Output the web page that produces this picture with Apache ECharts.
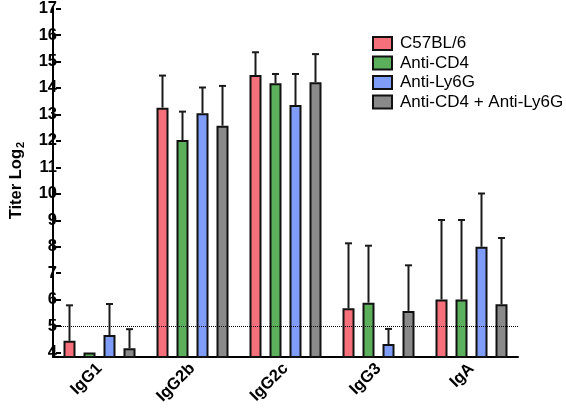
<!DOCTYPE html>
<html><head><meta charset="utf-8">
<script src="https://cdn.jsdelivr.net/npm/echarts@6/dist/echarts.min.js"></script>
<style>html,body{margin:0;padding:0;background:#fff}#c{width:566px;height:413px}</style>
</head><body><div id="c"></div>
<script>
const categories = ['IgG1', 'IgG2b', 'IgG2c', 'IgG3', 'IgA'];
const groups = ['C57BL/6', 'Anti-CD4', 'Anti-Ly6G', 'Anti-CD4 + Anti-Ly6G'];
const c57Mean   = [4.44, 13.24, 14.47, 5.67, 6.00];
const c57Upper  = [5.78, 14.45, 15.33, 8.12, 9.00];
const cd4Mean   = [4.00, 12.02, 14.16, 5.88, 6.00];
const cd4Upper  = [4.00, 13.09, 14.51, 8.03, 9.00];
const ly6gMean  = [4.66, 13.03, 13.34, 4.32, 7.99];
const ly6gUpper = [5.83, 14.00, 14.51, 4.89, 10.00];
const bothMean  = [4.16, 12.56, 14.20, 5.57, 5.82];
const bothUpper = [4.88, 14.06, 15.26, 7.29, 8.32];
const yTickMin = 4, yTickMax = 17, yTickStep = 1;
const axisFloor = 3.83;
const thresholdValue = 5;

const means = [c57Mean, cd4Mean, ly6gMean, bothMean];
const uppers = [c57Upper, cd4Upper, ly6gUpper, bothUpper];
const colors = ['#F6707B', '#5CB05B', '#7E9CF8', '#8A8A8A'];
const FONT = '"Liberation Sans", Arial, Helvetica, sans-serif';
const BAR_W = 12, BAR_PITCH = 20;

function errRender(offset) {
  return function (params, api) {
    const x = api.value(0), v = api.value(1), u = api.value(2);
    if (!(u > v)) return;
    const p0 = api.coord([x, v]);
    const p1 = api.coord([x, u]);
    const cx = p0[0] + offset;
    return {
      type: 'group',
      children: [
        { type: 'line', shape: { x1: cx, y1: p0[1], x2: cx, y2: p1[1] }, style: { stroke: '#1a1a1a', lineWidth: 2 } },
        { type: 'line', shape: { x1: cx - 3.5, y1: p1[1], x2: cx + 3.5, y2: p1[1] }, style: { stroke: '#1a1a1a', lineWidth: 2 } }
      ]
    };
  };
}

const series = [{
  type: 'line', data: [], xAxisIndex: 0, yAxisIndex: 0, z: 1, silent: true,
  markLine: {
    silent: true, symbol: 'none', label: { show: false },
    lineStyle: { type: 'dotted', color: '#000', width: 1 },
    data: [{ yAxis: thresholdValue }]
  }
}];
groups.forEach((g, i) => {
  series.push({
    name: g, type: 'bar', xAxisIndex: 0, yAxisIndex: 0, z: 2,
    barWidth: BAR_W, barGap: ((BAR_PITCH - BAR_W) / BAR_W * 100) + '%',
    itemStyle: { color: colors[i], borderColor: '#111', borderWidth: 2 },
    data: means[i]
  });
});
groups.forEach((g, i) => {
  series.push({
    name: 'err' + i, type: 'custom', xAxisIndex: 0, yAxisIndex: 0, z: 3,
    renderItem: errRender((i - 1.5) * BAR_PITCH),
    encode: { x: 0, y: [1, 2] },
    data: categories.map((c, k) => [k, means[i][k], uppers[i][k]])
  });
});

const chart = echarts.init(document.getElementById('c'), null, { renderer: 'canvas' });
chart.setOption({
  animation: false,
  backgroundColor: '#fff',
  textStyle: { fontFamily: FONT },
  grid: [
    { left: 53, right: 48, top: 8, bottom: 56 },
    { left: 53, right: 48, top: 8, bottom: 60.4 }
  ],
  legend: {
    data: groups, orient: 'vertical', left: 367, top: 30,
    itemWidth: 19, itemHeight: 13, itemGap: 2.5, icon: 'rect',
    textStyle: { fontSize: 17, color: '#000', fontFamily: FONT, padding: [0, 0, 0, 3] }
  },
  xAxis: [{
    gridIndex: 0, type: 'category', data: categories,
    axisLine: { lineStyle: { color: '#000', width: 2 } },
    axisTick: { alignWithLabel: true, length: 5, lineStyle: { color: '#000', width: 2 } },
    axisLabel: { rotate: 45, fontSize: 16.5, fontWeight: 'bold', color: '#000', margin: 9, fontFamily: FONT }
  }, {
    gridIndex: 1, type: 'category', data: categories, show: false
  }],
  yAxis: [{
    gridIndex: 0, type: 'value', min: axisFloor, max: yTickMax,
    axisLine: { show: true, lineStyle: { color: '#000', width: 2 } },
    axisTick: { show: false }, axisLabel: { show: false }, splitLine: { show: false }
  }, {
    gridIndex: 1, type: 'value', min: yTickMin, max: yTickMax, interval: yTickStep,
    axisLine: { show: false },
    axisTick: { show: true, length: 5, lineStyle: { color: '#000', width: 2 } },
    axisLabel: { fontSize: 16.5, fontWeight: 'bold', color: '#000', margin: 4, fontFamily: FONT },
    splitLine: { show: false },
    name: 'Titer Log{s|2}', nameLocation: 'middle', nameRotate: 90, nameGap: 35,
    nameTextStyle: {
      fontSize: 16.5, fontWeight: 'bold', color: '#000', fontFamily: FONT,
      rich: { s: { fontSize: 11, fontWeight: 'bold', color: '#000', fontFamily: FONT, padding: [8, 0, 0, 1] } }
    }
  }],
  series: series
});
</script></body></html>
